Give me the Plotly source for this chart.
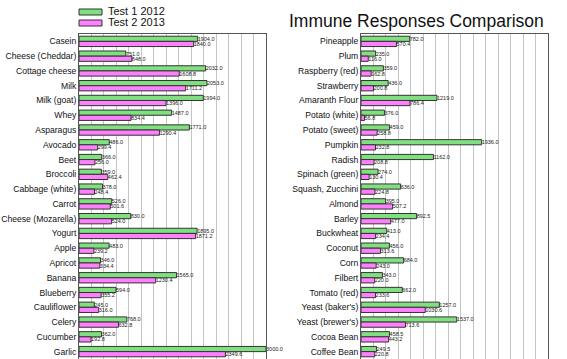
import plotly.graph_objects as go

series_names = ["Test 1 2012", "Test 2 2013"]
series_colors = ["#80e080", "#ff80ff"]
chart_title = "Immune Responses Comparison"

left_categories = ["Casein", "Cheese (Cheddar)", "Cottage cheese", "Milk", "Milk (goat)", "Whey",
                   "Asparagus", "Avocado", "Beet", "Broccoli", "Cabbage (white)", "Carrot",
                   "Cheese (Mozarella)", "Yogurt", "Apple", "Apricot", "Banana", "Blueberry",
                   "Cauliflower", "Celery", "Cucumber", "Garlic"]
left_test1 = [1904.0, 751.0, 2032.0, 2053.0, 1994.0, 1487.0, 1771.0, 486.0, 366.0, 359.0, 378.0,
              526.0, 830.0, 1895.0, 483.0, 346.0, 1565.0, 594.0, 245.0, 768.0, 362.0, 3000.0]
left_test2 = [1840.0, 848.0, 1608.8, 1711.2, 1396.0, 834.4, 1290.4, 299.4, 256.0, 462.4, 248.4,
              501.6, 524.0, 1871.2, 239.2, 334.4, 1230.4, 355.2, 316.0, 632.8, 192.8, 2349.6]

right_categories = ["Pineapple", "Plum", "Raspberry (red)", "Strawberry", "Amaranth Flour",
                    "Potato (white)", "Potato (sweet)", "Pumpkin", "Radish", "Spinach (green)",
                    "Squash, Zucchini", "Almond", "Barley", "Buckwheat", "Coconut", "Corn",
                    "Filbert", "Tomato (red)", "Yeast (baker's)", "Yeast (brewer's)",
                    "Cocoa Bean", "Coffee Bean"]
right_test1 = [782.0, 235.0, 359.0, 436.0, 1219.0, 376.0, 459.0, 1936.0, 1162.0, 274.0, 636.0,
               395.0, 892.5, 413.0, 456.0, 684.0, 343.0, 662.0, 1257.0, 1537.0, 458.5, 249.5]
right_test2 = [570.4, 116.0, 162.8, 200.8, 786.4, 56.8, 258.8, 232.8, 208.8, 130.4, 224.8,
               507.2, 477.0, 234.4, 313.6, 243.0, 220.0, 233.6, 1030.6, 713.6, 443.2, 220.8]

W, H = 567, 359
def px(x):
    return x / W
def py(y):
    return 1 - y / H

fig = go.Figure()
panels = [
    (left_categories, [left_test1, left_test2], "x", "y"),
    (right_categories, [right_test1, right_test2], "x2", "y2"),
]
for cats, vals, xa, ya in panels:
    for name, color, v in zip(series_names, series_colors, vals):
        fig.add_trace(go.Bar(
            y=cats, x=v, orientation="h", name=name, xaxis=xa, yaxis=ya,
            marker=dict(color=color, line=dict(color="#333333", width=1)),
            texttemplate="%{x:.1f}", textposition="outside", cliponaxis=False,
            constraintext="none",
            textfont=dict(size=5.5, color="#222222", family="Liberation Sans, Arial"),
            showlegend=False,
        ))

label_font = dict(family="Liberation Sans, Arial", size=8.6, color="#111111")
ydom = [0, py(34)]
xcommon = dict(range=[0, 3000], dtick=200, showgrid=True, gridcolor="#c4c4c4", gridwidth=1,
               showticklabels=False, ticks="", zeroline=False, showline=True, mirror=True,
               linecolor="#555555", linewidth=1, automargin=False)
ycommon = dict(type="category", autorange="reversed", showgrid=False, ticks="",
               tickfont=label_font, showline=True, mirror=True, linecolor="#555555", linewidth=1,
               automargin=False)

fig.update_layout(
    template="none",
    width=W, height=H, margin=dict(l=0, r=0, t=0, b=0, pad=0),
    paper_bgcolor="white", plot_bgcolor="white",
    barmode="group", bargap=0.3, bargroupgap=0,
    showlegend=False,
    xaxis=dict(domain=[px(79), px(266)], anchor="y", **xcommon),
    yaxis=dict(domain=ydom, anchor="x", **ycommon),
    xaxis2=dict(domain=[px(361), px(548)], anchor="y2", **xcommon),
    yaxis2=dict(domain=ydom, anchor="x2", **ycommon),
)

# custom legend
legend_rows = [(9, 15, 11.5), (20, 26, 22.5)]
for (y0, y1, yt), name, color in zip(legend_rows, series_names, series_colors):
    fig.add_shape(type="rect", xref="paper", yref="paper",
                  x0=px(79), x1=px(102), y0=py(y1), y1=py(y0),
                  fillcolor=color, line=dict(color="#333333", width=1))
    fig.add_annotation(x=px(106), y=py(yt), xref="paper", yref="paper", text=name,
                       showarrow=False, xanchor="left", yanchor="middle",
                       font=dict(family="Liberation Sans, Arial", size=11, color="#111111"))

fig.add_annotation(x=px(416), y=py(21), xref="paper", yref="paper", text=chart_title,
                   showarrow=False, xanchor="center", yanchor="middle",
                   font=dict(family="Liberation Sans, Arial", size=17.5, color="#111111"))

fig.write_html("out.html", config={"displayModeBar": False},
               post_script="document.body.style.margin='0px';document.body.style.overflow='hidden';")
